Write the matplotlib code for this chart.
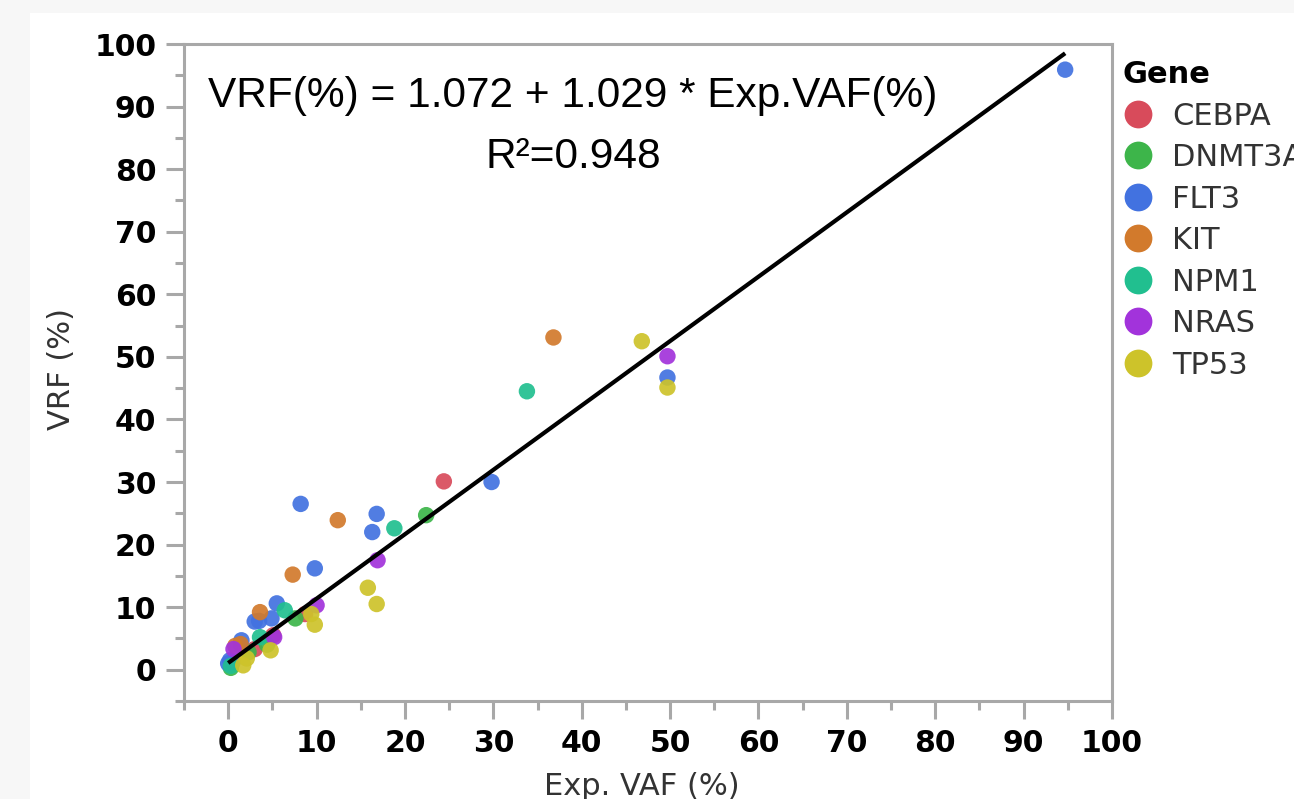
"""VRF vs expected VAF scatter with linear fit, coloured by gene."""

import matplotlib

matplotlib.use("Agg")
import matplotlib.pyplot as plt  # noqa: E402
import numpy as np  # noqa: E402
from matplotlib.lines import Line2D  # noqa: E402
from matplotlib.patches import Rectangle  # noqa: E402

# ------------------------------------------------------------------
# data
# ------------------------------------------------------------------
GENES = ["CEBPA", "DNMT3A", "FLT3", "KIT", "NPM1", "NRAS", "TP53"]
COLORS = ["#d84b5b", "#3db54a", "#4272e0", "#d27a2c", "#21bf8f", "#a233db", "#cdc32a"]

CEBPA_VAF = [24.4, 8.7, 5.1, 3.0]
CEBPA_VRF = [30.1, 8.9, 5.5, 3.3]
DNMT3A_VAF = [22.4, 7.6, 4.4, 2.3, 0.3]
DNMT3A_VRF = [24.7, 8.2, 4.0, 2.8, 0.3]
FLT3_VAF = [94.7, 49.7, 29.8, 8.2, 16.8, 16.3, 9.8, 5.5, 3.0, 3.5, 4.9, 1.5, 0.2, 0.0, 0.5]
FLT3_VRF = [95.9, 46.7, 30.0, 26.5, 24.9, 22.0, 16.2, 10.6, 7.7, 7.8, 8.2, 4.7, 1.5, 1.0, 1.2]
KIT_VAF = [36.8, 12.4, 7.3, 3.6, 1.4, 0.8]
KIT_VRF = [53.1, 23.9, 15.2, 9.2, 4.1, 3.8]
NPM1_VAF = [33.8, 18.8, 6.4, 3.6, 0.3]
NPM1_VRF = [44.5, 22.6, 9.5, 5.2, 0.6]
NRAS_VAF = [49.7, 16.9, 10.0, 5.2, 0.6]
NRAS_VRF = [50.1, 17.5, 10.3, 5.2, 3.3]
TP53_VAF = [46.8, 49.7, 15.8, 16.8, 9.4, 9.8, 4.8, 2.1, 1.7]
TP53_VRF = [52.5, 45.1, 13.1, 10.5, 8.9, 7.2, 3.1, 1.8, 0.7]

VAF = [CEBPA_VAF, DNMT3A_VAF, FLT3_VAF, KIT_VAF, NPM1_VAF, NRAS_VAF, TP53_VAF]
VRF = [CEBPA_VRF, DNMT3A_VRF, FLT3_VRF, KIT_VRF, NPM1_VRF, NRAS_VRF, TP53_VRF]

INTERCEPT = 1.072
SLOPE = 1.029
R2 = 0.948

AXIS_TICKS = list(range(0, 101, 10))

W, H = 1294, 799
GRID_GREY = "#a8a8a8"


def main() -> None:
    fig = plt.figure(figsize=(W / 100, H / 100), dpi=100)
    fig.patch.set_facecolor("#f7f7f7")
    # white report panel, kept behind the axes
    fig.add_artist(
        Rectangle((30 / W, 0), 1 - 30 / W, 1 - 13 / H, transform=fig.transFigure,
                  facecolor="white", edgecolor="none", zorder=-10)
    )

    ax = fig.add_axes([184 / W, 1 - 701 / H, 928 / W, 657 / H])
    ax.set_facecolor("white")

    for gene, color, xs, ys in zip(GENES, COLORS, VAF, VRF):
        ax.scatter(xs, ys, s=140, color=color, edgecolors="none", alpha=0.92, zorder=2, label=gene)

    # fitted line over the observed range
    all_x = np.concatenate([np.asarray(v, dtype=float) for v in VAF])
    fx = np.array([all_x.min(), all_x.max()])
    ax.plot(fx, INTERCEPT + SLOPE * fx, color="black", lw=3.0, zorder=3, solid_capstyle="butt")

    ax.set_xlim(-5, 100)
    ax.set_ylim(-5, 100)
    ax.set_xticks(AXIS_TICKS)
    ax.set_yticks(AXIS_TICKS)
    ax.set_xticks(np.arange(-5, 100, 10), minor=True)
    ax.set_yticks(np.arange(-5, 100, 10), minor=True)
    ax.set_xticklabels([str(t) for t in AXIS_TICKS], fontsize=21.5, fontweight="bold")
    ax.set_yticklabels([str(t) for t in AXIS_TICKS], fontsize=21.5, fontweight="bold")
    ax.tick_params(which="major", direction="out", length=13, width=2.2, color=GRID_GREY, pad=7)
    ax.tick_params(which="minor", direction="out", length=6.5, width=2.2, color=GRID_GREY)
    for sp in ax.spines.values():
        sp.set_color(GRID_GREY)
        sp.set_linewidth(2.2)

    # axis titles
    fig.text(642 / W, 1 - 795 / H, "Exp. VAF (%)", fontsize=22, color="#333333",
             ha="center", va="baseline")
    fig.text(61 / W, 1 - 369 / H, "VRF (%)", fontsize=22, color="#333333",
             rotation=90, ha="center", va="center")

    # fit annotation
    fig.text(573 / W, 1 - 107 / H, f"VRF(%) = {INTERCEPT:.3f} + {SLOPE:.3f} * Exp.VAF(%)",
             fontsize=30.5, family="Liberation Sans", ha="center", va="baseline")
    fig.text(573 / W, 1 - 168 / H, f"R\u00b2={R2:.3f}",
             fontsize=30.5, family="Liberation Sans", ha="center", va="baseline")

    # legend
    handles = [
        Line2D([], [], marker="o", linestyle="none", markersize=20, markerfacecolor=c,
               markeredgecolor="none")
        for c in COLORS
    ]
    ax.legend(handles, GENES, loc="upper left", bbox_to_anchor=(1123 / W, 1 - 60 / H),
              bbox_transform=fig.transFigure, frameon=False, fontsize=22, labelcolor="#333333",
              title="Gene", title_fontproperties={"weight": "bold", "size": 22},
              alignment="left", handlelength=1.0, handletextpad=0.6, labelspacing=0.41,
              borderpad=0, borderaxespad=0)

    fig.savefig("out.png", dpi=100, facecolor=fig.get_facecolor())
    plt.close(fig)


if __name__ == "__main__":
    main()
